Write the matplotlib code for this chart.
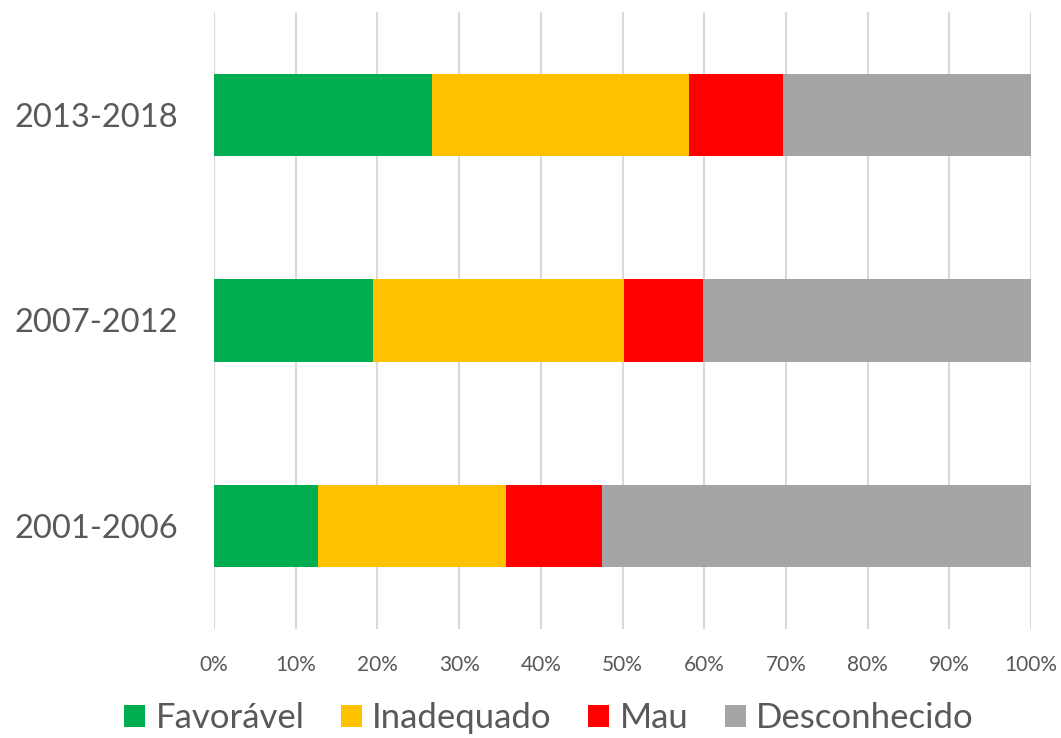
import matplotlib
matplotlib.use("Agg")
import matplotlib.pyplot as plt
from matplotlib.ticker import PercentFormatter
from matplotlib.patches import Patch

periods = ["2001-2006", "2007-2012", "2013-2018"]
favoravel = [12.7, 19.5, 26.7]
inadequado = [23.1, 30.7, 31.5]
mau = [11.7, 9.7, 11.5]
desconhecido = [52.5, 40.1, 30.3]
series_names = ["Favorável", "Inadequado", "Mau", "Desconhecido"]
colors = ["#00AD50", "#FFC000", "#FF0000", "#A5A5A5"]
xticks = list(range(0, 101, 10))

plt.rcParams['font.family'] = ['Lato', 'DejaVu Sans']
fig = plt.figure(figsize=(10.61, 7.38), dpi=100)
ax = fig.add_axes([214/1061, 1-629/738, (1031-214)/1061, (629-12)/738])

left = [0, 0, 0]
for vals, c in zip([favoravel, inadequado, mau, desconhecido], colors):
    ax.barh(periods, vals, left=left, height=0.4, color=c, zorder=3)
    left = [l + v for l, v in zip(left, vals)]

ax.set_xlim(0, 100)
ax.set_ylim(-0.5, 2.5)
ax.set_xticks(xticks)
ax.xaxis.set_major_formatter(PercentFormatter(decimals=0))
ax.grid(axis='x', color='#D9D9D9', linewidth=1.5, zorder=0)
for s in ax.spines.values():
    s.set_visible(False)
ax.tick_params(axis='both', length=0)
ax.tick_params(axis='x', labelsize=15, labelcolor='#595959', pad=19)
ax.tick_params(axis='y', labelsize=23.5, labelcolor='#595959', pad=26)

handles = [Patch(facecolor=c, label=n) for n, c in zip(series_names, colors)]
fig.legend(handles=handles, loc='center', bbox_to_anchor=(549/1061, 1-718/738),
           ncol=4, frameon=False, fontsize=25, labelcolor='#595959',
           handlelength=0.6, handleheight=0.6, handletextpad=0.3, columnspacing=1.05)

fig.savefig("out.png", dpi=100)
